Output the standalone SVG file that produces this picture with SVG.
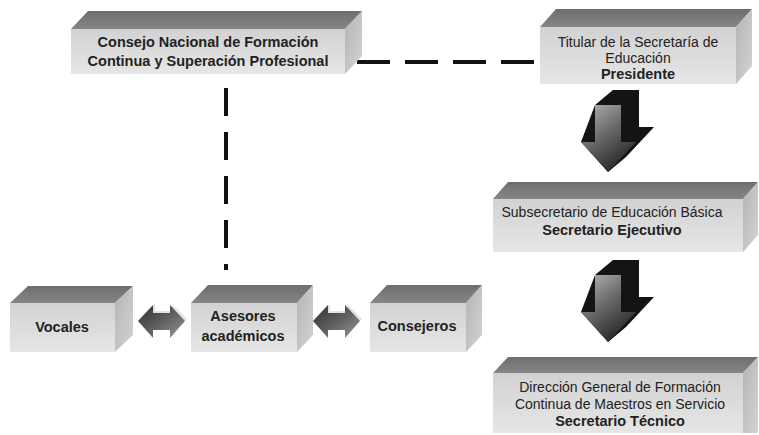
<svg xmlns="http://www.w3.org/2000/svg" width="759" height="435" viewBox="0 0 759 435">
<defs>
<linearGradient id="gTop" x1="0" y1="0" x2="0" y2="1"><stop offset="0" stop-color="#6e6e6e"/><stop offset="1" stop-color="#868686"/></linearGradient>
<linearGradient id="gFront" x1="0" y1="0" x2="0" y2="1"><stop offset="0" stop-color="#d2d2d2"/><stop offset="1" stop-color="#e6e6e6"/></linearGradient>
<linearGradient id="gSide" x1="0" y1="0" x2="1" y2="1"><stop offset="0" stop-color="#b4b4b4"/><stop offset="1" stop-color="#d4d4d4"/></linearGradient>
<linearGradient id="gArrow" x1="0" y1="0" x2="0.6" y2="1"><stop offset="0" stop-color="#b8b8b8"/><stop offset="0.5" stop-color="#6a6a6a"/><stop offset="1" stop-color="#262626"/></linearGradient>
<linearGradient id="gDbl" x1="0" y1="0" x2="1" y2="1"><stop offset="0" stop-color="#2e2e2e"/><stop offset="0.5" stop-color="#5e5e5e"/><stop offset="1" stop-color="#9a9a9a"/></linearGradient>
<g id="downArrow">
<polygon fill="#141414" points="613,90 639,90 639,127 654,127 626,157 608,172 581,142 595,105"/>
<polygon fill="url(#gArrow)" points="595,105 621,105 621,142 636,142 608,172 581,142 595,142"/>
</g>
<g id="dblArrow">
<polygon fill="#e2e2e2" points="2,14 17,-1 17,6 34,6 34,-1 49,14 47,16 2,16"/>
<polygon fill="url(#gDbl)" points="0,16 15,0 15,8 32,8 32,0 47,16 32,33 32,25 15,25 15,33"/>
</g>
</defs>
<style>
.top{fill:url(#gTop)}
.front{fill:url(#gFront)}
.side{fill:url(#gSide)}
text{font-family:"Liberation Sans",Arial,sans-serif;fill:#222;text-anchor:middle}
.b{font-weight:bold;font-size:14.5px}
.r{font-size:14px}
.dash{stroke:#111;stroke-width:4;fill:none}
</style>
<rect width="759" height="435" fill="#fff"/>

<g id="connectors">
<line class="dash" x1="357" y1="62" x2="538" y2="62" stroke-dasharray="33 15"/>
<line class="dash" x1="226" y1="88" x2="226" y2="270" stroke-dasharray="28 16"/>
<use href="#downArrow"/>
<use href="#downArrow" transform="translate(0,170)"/>
<use href="#dblArrow" transform="translate(138,305)"/>
<use href="#dblArrow" transform="translate(313,305)"/>
</g>

<g id="consejo">
<polygon class="top" points="71,29 88,11 362,11 345,29"/>
<polygon class="side" points="345,29 362,11 362,56 345,74"/>
<rect class="front" x="71" y="29" width="274" height="45"/>
<text class="b" x="208" y="47">Consejo Nacional de Formación</text>
<text class="b" x="208" y="66">Continua y Superación Profesional</text>
</g>

<g id="titular">
<polygon class="top" points="540,27 556,9 752,9 736,27"/>
<polygon class="side" points="736,27 752,9 752,66 736,84"/>
<rect class="front" x="540" y="27" width="196" height="57"/>
<text class="r" x="638" y="47">Titular de la Secretaría de</text>
<text class="r" x="638" y="63">Educación</text>
<text class="b" x="638" y="79">Presidente</text>
</g>

<g id="subsecretario">
<polygon class="top" points="493,199 508,182 758,182 743,199"/>
<polygon class="side" points="743,199 758,182 758,235 743,252"/>
<rect class="front" x="493" y="199" width="250" height="53"/>
<text class="r" x="612" y="217">Subsecretario de Educación Básica</text>
<text class="b" x="612" y="235">Secretario Ejecutivo</text>
</g>

<g id="direccion">
<polygon class="top" points="493,373 508,357 758,357 743,373"/>
<polygon class="side" points="743,373 758,357 758,433 743,433"/>
<rect class="front" x="493" y="373" width="250" height="60"/>
<text class="r" x="620" y="392">Dirección General de Formación</text>
<text class="r" x="620" y="409">Continua de Maestros en Servicio</text>
<text class="b" x="620" y="426">Secretario Técnico</text>
</g>

<g id="vocales">
<polygon class="top" points="10,303 28,286 133,286 115,303"/>
<polygon class="side" points="115,303 133,286 133,335 115,352"/>
<rect class="front" x="10" y="303" width="105" height="49"/>
<text class="b" x="62" y="332">Vocales</text>
</g>

<g id="asesores">
<polygon class="top" points="191,303 208,285 313,285 297,303"/>
<polygon class="side" points="297,303 313,285 313,335 297,352"/>
<rect class="front" x="191" y="303" width="106" height="49"/>
<text class="b" x="243" y="321">Asesores</text>
<text class="b" x="243" y="341">académicos</text>
</g>

<g id="consejeros">
<polygon class="top" points="370,303 387,285 482,285 466,303"/>
<polygon class="side" points="466,303 482,285 482,335 466,352"/>
<rect class="front" x="370" y="303" width="96" height="49"/>
<text class="b" x="417" y="331">Consejeros</text>
</g>
</svg>
